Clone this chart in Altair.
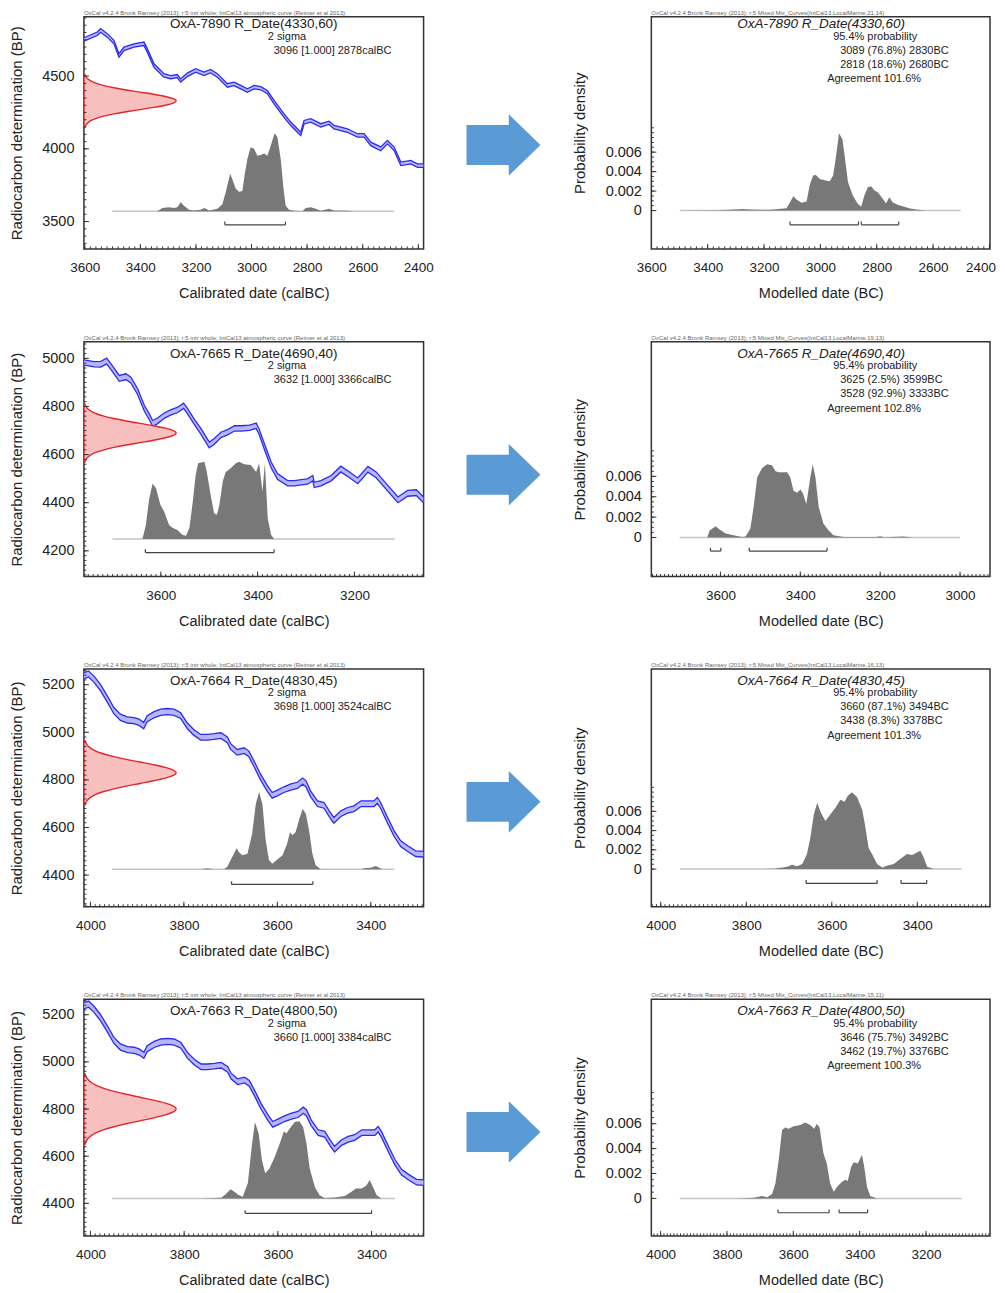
import math
import altair as alt
import pandas as pd

# ------------------------------------------------------------------ data
SAMPLES = ["OxA-7890 R_Date(4330,60)", "OxA-7665 R_Date(4690,40)",
           "OxA-7664 R_Date(4830,45)", "OxA-7663 R_Date(4800,50)"]
CAL_TEXT = ["3096 [1.000] 2878calBC", "3632 [1.000] 3366calBC",
            "3698 [1.000] 3524calBC", "3660 [1.000] 3384calBC"]
MOD_TEXT = [["3089 (76.8%) 2830BC", "2818 (18.6%) 2680BC"],
            ["3625 (2.5%) 3599BC", "3528 (92.9%) 3333BC"],
            ["3660 (87.1%) 3494BC", "3438 (8.3%) 3378BC"],
            ["3646 (75.7%) 3492BC", "3462 (19.7%) 3376BC"]]
AGREE_TEXT = ["Agreement 101.6%", "Agreement 102.8%", "Agreement 101.3%", "Agreement 100.3%"]
MARINE = ["21,14", "19,13", "16,13", "15,11"]
HEAD_LEFT = "OxCal v4.2.4 Bronk Ramsey (2013); r:5 intr whole; IntCal13 atmospheric curve (Reimer et al 2013)"
HEAD_RIGHT = "OxCal v4.2.4 Bronk Ramsey (2013); r:5 Mixed Mix_Curves(IntCal13,LocalMarine,{})"

# calibration curves (calBC, BP, 1 sigma)
R1_CURVE_YEAR = [3603, 3555, 3543, 3519, 3495, 3477, 3459, 3423, 3387, 3375, 3351, 3315, 3291, 3267, 3255, 3231,
                 3201, 3171, 3147, 3123, 3087, 3063, 3039, 3015, 2991, 2967, 2943, 2919, 2883, 2859, 2835, 2823,
                 2811, 2787, 2751, 2721, 2703, 2655, 2619, 2595, 2571, 2535, 2511, 2487, 2463, 2427, 2403, 2381]
R1_CURVE_BP = [4752, 4791, 4814, 4780, 4734, 4642, 4688, 4711, 4722, 4677, 4573, 4505, 4493, 4500, 4470, 4509,
               4539, 4516, 4534, 4505, 4436, 4447, 4424, 4401, 4424, 4417, 4390, 4321, 4229, 4172, 4126, 4103,
               4183, 4195, 4161, 4179, 4149, 4126, 4092, 4092, 4034, 4000, 4046, 4000, 3897, 3908, 3885, 3885]
R1_CURVE_SIG = [12, 12, 13, 12, 12, 12, 12, 11, 12, 12, 12, 12, 11, 11, 11, 12,
                12, 12, 12, 12, 12, 12, 12, 12, 12, 11, 11, 12, 12, 12, 12, 12,
                12, 12, 12, 11, 12, 12, 12, 12, 12, 13, 12, 12, 12, 12, 12, 12]

R2_CURVE_YEAR = [3759, 3738, 3724, 3712, 3703, 3686, 3672, 3662, 3648, 3634, 3624, 3617, 3607, 3593, 3579, 3566,
                 3553, 3545, 3531, 3517, 3500, 3490, 3476, 3462, 3448, 3434, 3417, 3403, 3397, 3386, 3372, 3359,
                 3338, 3324, 3310, 3297, 3286, 3283, 3269, 3248, 3228, 3210, 3193, 3172, 3155, 3131, 3110, 3090,
                 3072, 3057]
R2_CURVE_BP = [4983, 4976, 4976, 4989, 4965, 4917, 4924, 4910, 4862, 4792, 4758, 4730, 4740, 4762, 4776, 4785,
               4803, 4781, 4737, 4696, 4640, 4654, 4682, 4693, 4709, 4709, 4712, 4720, 4696, 4633, 4557, 4509,
               4481, 4481, 4485, 4488, 4502, 4474, 4481, 4502, 4540, 4516, 4491, 4539, 4516, 4460, 4412, 4439,
               4442, 4412]
R2_CURVE_SIG = [11, 11, 12, 12, 12, 12, 12, 12, 12, 12, 12, 12, 12, 11, 11, 11, 11, 11, 11, 12,
                12, 12, 11, 11, 11, 11, 11, 11, 11, 12, 12, 12, 11, 11, 11, 11, 11, 11, 11, 11,
                12, 12, 12, 12, 12, 12, 12, 12, 12, 12]

# rows 3 and 4 show the same stretch of IntCal13
R34_CURVE_YEAR = [4014, 4004, 3993, 3979, 3964, 3950, 3936, 3921, 3907, 3896, 3886, 3879, 3864, 3850, 3836, 3821,
                  3807, 3793, 3779, 3764, 3750, 3736, 3721, 3707, 3700, 3686, 3671, 3661, 3650, 3636, 3621, 3611,
                  3600, 3586, 3571, 3557, 3546, 3539, 3529, 3514, 3500, 3489, 3479, 3464, 3450, 3436, 3421, 3407,
                  3393, 3386, 3379, 3364, 3350, 3336, 3321, 3304, 3287]
R34_CURVE_BP = [5238, 5245, 5224, 5189, 5140, 5091, 5063, 5052, 5049, 5042, 5028, 5056, 5074, 5084, 5087, 5084,
                5070, 5028, 5000, 4979, 4979, 4982, 4986, 4968, 4940, 4916, 4923, 4909, 4868, 4812, 4763, 4735,
                4745, 4759, 4770, 4777, 4795, 4784, 4742, 4700, 4693, 4658, 4630, 4658, 4672, 4679, 4700, 4700,
                4700, 4714, 4693, 4630, 4574, 4532, 4511, 4490, 4488]
R34_CURVE_SIG = [13, 13, 13, 13, 13, 13, 13, 13, 13, 13, 13, 13, 13, 13, 13, 13, 12, 12, 12, 12,
                 12, 12, 12, 12, 12, 12, 12, 12, 12, 12, 12, 12, 12, 12, 13, 13, 13, 13, 12, 12,
                 12, 12, 12, 12, 12, 12, 12, 12, 12, 12, 12, 12, 12, 12, 12, 12, 12]

# radiocarbon measurements (red curves on the BP axis)
NORM_DENS = [0.011, 0.023, 0.044, 0.080, 0.135, 0.216, 0.325, 0.458, 0.607, 0.755, 0.882, 0.969, 1.0,
             0.969, 0.882, 0.755, 0.607, 0.458, 0.325, 0.216, 0.135, 0.080, 0.044, 0.023, 0.011]
R1_NORM_BP = [4150, 4165, 4180, 4195, 4210, 4225, 4240, 4255, 4270, 4285, 4300, 4315, 4330,
              4345, 4360, 4375, 4390, 4405, 4420, 4435, 4450, 4465, 4480, 4495, 4510]
R2_NORM_BP = [4570, 4580, 4590, 4600, 4610, 4620, 4630, 4640, 4650, 4660, 4670, 4680, 4690,
              4700, 4710, 4720, 4730, 4740, 4750, 4760, 4770, 4780, 4790, 4800, 4810]
R3_NORM_BP = [4695, 4706.25, 4717.5, 4728.75, 4740, 4751.25, 4762.5, 4773.75, 4785, 4796.25, 4807.5, 4818.75, 4830,
              4841.25, 4852.5, 4863.75, 4875, 4886.25, 4897.5, 4908.75, 4920, 4931.25, 4942.5, 4953.75, 4965]
R4_NORM_BP = [4650, 4662.5, 4675, 4687.5, 4700, 4712.5, 4725, 4737.5, 4750, 4762.5, 4775, 4787.5, 4800,
              4812.5, 4825, 4837.5, 4850, 4862.5, 4875, 4887.5, 4900, 4912.5, 4925, 4937.5, 4950]

# calibrated distributions (relative height)
R1_CAL_YEAR = [3501, 3339, 3321, 3297, 3279, 3267, 3255, 3243, 3225, 3207, 3183, 3169, 3153, 3123, 3105, 3093,
               3077, 3069, 3057, 3045, 3033, 3025, 3015, 3003, 2991, 2979, 2967, 2955, 2943, 2931, 2917, 2907,
               2895, 2885, 2877, 2865, 2847, 2817, 2805, 2787, 2769, 2751, 2721, 2703, 2655, 2631, 2487]
R1_CAL_PROB = [0, 0, 0.04, 0.05, 0.04, 0.05, 0.115, 0.07, 0.02, 0.01, 0.02, 0.04, 0.01, 0.03, 0.09, 0.24,
               0.48, 0.41, 0.29, 0.25, 0.26, 0.46, 0.67, 0.82, 0.80, 0.71, 0.72, 0.74, 0.71, 0.84, 1.0, 0.95,
               0.67, 0.29, 0.07, 0.02, 0.005, 0, 0.04, 0.05, 0.03, 0.005, 0.03, 0.01, 0.005, 0, 0]
R2_CAL_YEAR = [3700, 3638, 3631, 3624, 3617, 3610, 3601, 3593, 3583, 3576, 3566, 3555, 3548, 3541, 3534, 3528,
               3523, 3510, 3505, 3497, 3490, 3484, 3479, 3472, 3466, 3455, 3445, 3438, 3428, 3414, 3403, 3397,
               3390, 3385, 3379, 3372, 3366, 3117]
R2_CAL_PROB = [0, 0, 0.18, 0.52, 0.71, 0.65, 0.44, 0.35, 0.18, 0.145, 0.115, 0.05, 0.04, 0.14, 0.48, 0.82,
               0.97, 0.99, 0.86, 0.56, 0.33, 0.31, 0.44, 0.74, 0.86, 0.91, 0.97, 0.99, 0.96, 0.95, 0.86, 0.97,
               0.61, 0.97, 0.26, 0.05, 0, 0]
R3_CAL_YEAR = [3954, 3764, 3750, 3736, 3714, 3707, 3700, 3693, 3687, 3682, 3675, 3664, 3654, 3646, 3639, 3632,
               3625, 3618, 3611, 3600, 3589, 3579, 3573, 3568, 3561, 3554, 3546, 3539, 3532, 3525, 3518, 3507,
               3421, 3414, 3400, 3389, 3382, 3375, 3350]
R3_CAL_PROB = [0, 0, 0.013, 0, 0, 0.03, 0.12, 0.2, 0.27, 0.22, 0.18, 0.2, 0.46, 0.85, 1.0, 0.85,
               0.375, 0.12, 0.07, 0.125, 0.18, 0.33, 0.48, 0.44, 0.48, 0.63, 0.78, 0.72, 0.5, 0.2, 0.05, 0,
               0, 0.013, 0.02, 0.04, 0.02, 0, 0]
R4_CAL_YEAR = [3954, 3764, 3721, 3711, 3701, 3693, 3684, 3675, 3664, 3656, 3649, 3641, 3634, 3627, 3618, 3607,
               3596, 3587, 3582, 3575, 3564, 3554, 3546, 3539, 3532, 3521, 3511, 3500, 3479, 3457, 3443, 3433,
               3421, 3411, 3404, 3397, 3389, 3379, 3350]
R4_CAL_PROB = [0, 0, 0.01, 0.057, 0.12, 0.087, 0.043, 0.02, 0.2, 0.67, 1.0, 0.85, 0.5, 0.33, 0.39, 0.54,
               0.72, 0.88, 0.85, 0.91, 1.0, 1.01, 0.93, 0.72, 0.39, 0.15, 0.04, 0.004, 0.013, 0.03, 0.087, 0.13,
               0.13, 0.17, 0.24, 0.15, 0.04, 0, 0]

# modelled distributions (probability density)
R1_MOD_YEAR = [3499, 3367, 3308, 3273, 3249, 3191, 3167, 3120, 3108, 3096, 3085, 3067, 3049, 3038, 3026, 3016,
               3002, 2985, 2967, 2955, 2944, 2934, 2922, 2914, 2902, 2885, 2867, 2855, 2844, 2832, 2820, 2808,
               2796, 2779, 2767, 2755, 2744, 2726, 2708, 2685, 2661, 2626, 2502]
R1_MOD_PROB = [0, 0.00003, 0.0001, 0.00017, 0.0001, 0.00007, 0.0001, 0.00024, 0.00086, 0.00147, 0.00113, 0.0008,
               0.00092, 0.0026, 0.0036, 0.00366, 0.00325, 0.0031, 0.003, 0.0036, 0.00565, 0.00795, 0.00736,
               0.00565, 0.0029, 0.00154, 0.00068, 0.0004, 0.00154, 0.0024, 0.0025, 0.00205, 0.00188, 0.0012,
               0.00075, 0.00137, 0.00086, 0.0006, 0.00045, 0.00024, 0.0001, 0, 0]
R2_MOD_YEAR = [3702, 3633, 3627, 3612, 3602, 3587, 3567, 3546, 3537, 3525, 3517, 3508, 3496, 3483, 3471, 3462,
               3454, 3433, 3425, 3417, 3408, 3400, 3393, 3385, 3375, 3369, 3362, 3354, 3342, 3329, 3317, 3292,
               3210, 3200, 3190, 3142, 3117, 3000]
R2_MOD_PROB = [0, 0, 0.0007, 0.0011, 0.00078, 0.0004, 0.00023, 0.00005, 0.0001, 0.00088, 0.003, 0.0059,
               0.0068, 0.0072, 0.0071, 0.0065, 0.0064, 0.0064, 0.0059, 0.0046, 0.0044, 0.0047, 0.0043, 0.0033,
               0.0059, 0.0072, 0.0059, 0.003, 0.00136, 0.0007, 0.00023, 0.00006, 0.00005, 0.00013, 0.00003,
               0.0001, 0, 0]
R3_MOD_YEAR = [3955, 3774, 3735, 3704, 3693, 3681, 3669, 3658, 3650, 3642, 3634, 3626, 3615, 3603, 3591, 3580,
               3570, 3563, 3553, 3541, 3529, 3522, 3514, 3506, 3494, 3482, 3471, 3455, 3440, 3424, 3412, 3401,
               3393, 3385, 3377, 3362, 3296]
R3_MOD_PROB = [0, 0, 0.00003, 0.00024, 0.00045, 0.0003, 0.00052, 0.00156, 0.0033, 0.0057, 0.0069, 0.0059,
               0.005, 0.0057, 0.0064, 0.0072, 0.007, 0.0076, 0.008, 0.0075, 0.0062, 0.0045, 0.0022, 0.00156,
               0.00052, 0.00017, 0.00035, 0.00052, 0.00104, 0.00156, 0.00146, 0.00173, 0.0019, 0.0012, 0.00024,
               0, 0]
R4_MOD_YEAR = [3942, 3769, 3719, 3694, 3679, 3664, 3654, 3644, 3634, 3624, 3614, 3599, 3579, 3564, 3549, 3537,
               3529, 3521, 3509, 3499, 3489, 3478, 3468, 3453, 3443, 3436, 3426, 3418, 3406, 3393, 3386, 3378,
               3368, 3348, 3092]
R4_MOD_PROB = [0, 0, 0.00005, 0.00019, 0.0001, 0.00035, 0.0012, 0.0031, 0.0055, 0.0057, 0.0056, 0.0058,
               0.0059, 0.0061, 0.0059, 0.0056, 0.006, 0.0057, 0.0036, 0.0028, 0.0012, 0.00053, 0.00093, 0.00133,
               0.0015, 0.0014, 0.0025, 0.0029, 0.0028, 0.0035, 0.0025, 0.00093, 0.00019, 0, 0]

# ranges (brackets)
R1_CAL_RANGE = [(3096, 2878)]
R2_CAL_RANGE = [(3632, 3366)]
R3_CAL_RANGE = [(3698, 3524)]
R4_CAL_RANGE = [(3670, 3400)]
R1_MOD_RANGE = [(3108, 2865), (2855, 2722)]
R2_MOD_RANGE = [(3625, 3599), (3528, 3333)]
R3_MOD_RANGE = [(3660, 3494), (3438, 3378)]
R4_MOD_RANGE = [(3646, 3492), (3462, 3376)]

# axis tick labels
L_XVALS = [[3600, 3400, 3200, 3000, 2800, 2600, 2400], [3600, 3400, 3200],
           [4000, 3800, 3600, 3400], [4000, 3800, 3600, 3400]]
L_YVALS = [[3500, 4000, 4500], [4200, 4400, 4600, 4800, 5000],
           [4400, 4600, 4800, 5000, 5200], [4400, 4600, 4800, 5000, 5200]]
R_XVALS = [[3600, 3400, 3200, 3000, 2800, 2600, 2400], [3600, 3400, 3200, 3000],
           [4000, 3800, 3600, 3400], [4000, 3800, 3600, 3400, 3200]]
R_YVALS = [0, 0.002, 0.004, 0.006]

# ------------------------------------------------------------------ layout / style
FONT = "Liberation Sans"
TXT = "#222222"
FRAME = "#333333"
BLUE = "#2b2bf2"
BAND = "#aeaef8"
RED = "#e3262b"
PINK = "#f7b4b4"
GREY = "#787878"
LGREY = "#c4c4c4"
ARROW_BLUE = "#5b9bd5"

W_L, W_R, W_A = 340, 339, 188
HEIGHTS = [232.5, 235, 238, 237]
TEXT_DY = [-4.5, 0, 0, 0]
L_XDOM = [[3603, 2381], [3759, 3057], [4014, 3287], [4014, 3289]]
L_YDOM = [[3312, 4909], [4093, 5069], [4267, 5266], [4262, 5266]]
L_GDOM = [[-0.483, 2.493], [-0.483, 2.530], [-0.487, 2.596], [-0.491, 2.608]]
L_BLEVEL = [-0.175, -0.175, -0.198, -0.196]
R_XDOM = [[3600, 2398], [3773, 2925], [4022, 3230], [4028, 3007]]
R_YDOM = [[-0.00394, 0.01992], [-0.00383, 0.0192], [-0.00392, 0.02081], [-0.00301, 0.016]]
R_BLEVEL = [-0.00147, -0.00133, -0.00149, -0.00115]
R_BTICK = [0.00034, 0.00032, 0.00035, 0.00026]
R_EDGE_LABEL = [2400, None, None, None]
L_XMINOR = [20, 10, 10, 10]
L_YMINOR = [50, 20, 20, 20]
R_XMINOR = [20, 10, 10, 10]
NORM_XMAX = 3.68
ARROW = "M -1 -0.54 L 0.143 -0.54 L 0.143 -0.833 L 1 0 L 0.143 0.833 L 0.143 0.54 L -1 0.54 Z"

ROWS = [
    dict(curve=(R1_CURVE_YEAR, R1_CURVE_BP, R1_CURVE_SIG), norm=R1_NORM_BP,
         cal=(R1_CAL_YEAR, R1_CAL_PROB), mod=(R1_MOD_YEAR, R1_MOD_PROB),
         cr=R1_CAL_RANGE, mr=R1_MOD_RANGE),
    dict(curve=(R2_CURVE_YEAR, R2_CURVE_BP, R2_CURVE_SIG), norm=R2_NORM_BP,
         cal=(R2_CAL_YEAR, R2_CAL_PROB), mod=(R2_MOD_YEAR, R2_MOD_PROB),
         cr=R2_CAL_RANGE, mr=R2_MOD_RANGE),
    dict(curve=(R34_CURVE_YEAR, R34_CURVE_BP, R34_CURVE_SIG), norm=R3_NORM_BP,
         cal=(R3_CAL_YEAR, R3_CAL_PROB), mod=(R3_MOD_YEAR, R3_MOD_PROB),
         cr=R3_CAL_RANGE, mr=R3_MOD_RANGE),
    dict(curve=(R34_CURVE_YEAR, R34_CURVE_BP, R34_CURVE_SIG), norm=R4_NORM_BP,
         cal=(R4_CAL_YEAR, R4_CAL_PROB), mod=(R4_MOD_YEAR, R4_MOD_PROB),
         cr=R4_CAL_RANGE, mr=R4_MOD_RANGE),
]

ONE = pd.DataFrame({"k": [0]})


def sc(dom):
    return alt.Scale(domain=dom, nice=False, zero=False)


def steps(dom, step):
    lo, hi = min(dom), max(dom)
    k = math.ceil(lo / step)
    out = []
    while k * step <= hi + 1e-12:
        out.append(round(k * step, 6))
        k += 1
    return out


def text(s, x, y, size=11, align="left", style="normal", color=TXT):
    return alt.Chart(ONE).mark_text(text=s, fontSize=size, font=FONT, color=color, align=align,
                                    baseline="middle", fontStyle=style).encode(
        x=alt.value(x), y=alt.value(y))


def ticks(xs, ys, xmaj, xmin, ymaj, ymin, H):
    out = []
    for vals, ln in ((xmaj, 5), (xmin, 2.5)):
        out.append(alt.Chart(pd.DataFrame({"v": vals})).mark_rule(color=FRAME, strokeWidth=1, clip=True).encode(
            x=alt.X("v:Q", scale=xs, axis=None), y=alt.value(H), y2=alt.value(H - ln)))
    for vals, ln in ((ymaj, 5), (ymin, 2.5)):
        out.append(alt.Chart(pd.DataFrame({"v": vals})).mark_rule(color=FRAME, strokeWidth=1, clip=True).encode(
            y=alt.Y("v:Q", scale=ys, axis=None), x=alt.value(0), x2=alt.value(ln)))
    return out


def brackets(ranges, level, tick, xs, gs):
    df = pd.DataFrame({"a": [r[0] for r in ranges], "b": [r[1] for r in ranges],
                       "lvl": [level] * len(ranges), "top": [level + tick] * len(ranges)})
    base = alt.Chart(df).mark_rule(color="#444444", strokeWidth=1.2)
    return [
        base.encode(x=alt.X("a:Q", scale=xs, axis=None), x2="b:Q", y=alt.Y("lvl:Q", scale=gs, axis=None)),
        base.encode(x=alt.X("a:Q", scale=xs, axis=None), y=alt.Y("lvl:Q", scale=gs, axis=None), y2="top:Q"),
        base.encode(x=alt.X("b:Q", scale=xs, axis=None), y=alt.Y("lvl:Q", scale=gs, axis=None), y2="top:Q"),
    ]


def x_axis(vals, title, edge=None):
    extra = {}
    if edge is not None:
        test = "datum.value == %d" % edge
        extra = dict(labelAlign={"condition": {"test": test, "value": "right"}, "value": "center"},
                     labelOffset={"condition": {"test": test, "value": 6}, "value": 0})
    return alt.Axis(values=vals, format="d", title=title, orient="bottom", ticks=False, domain=False,
                    grid=False, labelFlush=False, labelFont=FONT, labelFontSize=13.5, labelColor=TXT,
                    labelPadding=12, titleFont=FONT, titleFontSize=14.5, titleFontWeight="normal",
                    titleColor=TXT, titlePadding=12, **extra)


def y_axis(vals, title, fmt, pad):
    return alt.Axis(values=vals, format=fmt, title=title, orient="left", ticks=False, domain=False,
                    grid=False, labelFont=FONT, labelFontSize=14.5, labelColor=TXT, labelPadding=10,
                    titleFont=FONT, titleFontSize=15, titleFontWeight="normal", titleColor=TXT,
                    titlePadding=pad)


def left_panel(i):
    r = ROWS[i]
    H = HEIGHTS[i]
    dy = TEXT_DY[i]
    xs, ys, gs, ns = sc(L_XDOM[i]), sc(L_YDOM[i]), sc(L_GDOM[i]), sc([0, NORM_XMAX])
    cy, cb, cs = r["curve"]
    curve = alt.Chart(pd.DataFrame({"yr": cy, "bp": cb, "sig": cs})).transform_calculate(
        lo="datum.bp - datum.sig", hi="datum.bp + datum.sig")
    band = curve.mark_area(color=BAND, opacity=0.9, clip=True).encode(
        x=alt.X("yr:Q", scale=xs, axis=x_axis(L_XVALS[i], "Calibrated date (calBC)")),
        y=alt.Y("lo:Q", scale=ys, axis=y_axis(L_YVALS[i], "Radiocarbon determination (BP)", "d", 17)),
        y2="hi:Q")
    up = curve.mark_line(color=BLUE, strokeWidth=1.3, clip=True).encode(
        x=alt.X("yr:Q", scale=xs, axis=None), y=alt.Y("hi:Q", scale=ys, axis=None))
    dn = curve.mark_line(color=BLUE, strokeWidth=1.3, clip=True).encode(
        x=alt.X("yr:Q", scale=xs, axis=None), y=alt.Y("lo:Q", scale=ys, axis=None))
    norm = alt.Chart(pd.DataFrame({"bp": r["norm"], "d": NORM_DENS})).mark_area(
        orient="horizontal", interpolate="monotone", fill=PINK, fillOpacity=0.85, stroke=RED,
        strokeWidth=1.4, clip=True).encode(
        x=alt.X("d:Q", scale=ns, axis=None), y=alt.Y("bp:Q", scale=ys, axis=None))
    gy, gp = r["cal"]
    base = alt.Chart(pd.DataFrame({"a": [gy[0]], "b": [gy[-1]], "z": [0]})).mark_rule(
        color=LGREY, strokeWidth=1.5).encode(
        x=alt.X("a:Q", scale=xs, axis=None), x2="b:Q", y=alt.Y("z:Q", scale=gs, axis=None))
    grey = alt.Chart(pd.DataFrame({"yr": gy, "p": gp})).mark_area(color=GREY, opacity=1, clip=True).encode(
        x=alt.X("yr:Q", scale=xs, axis=None), y=alt.Y("p:Q", scale=gs, axis=None), y2=alt.datum(0))
    layers = [band, up, dn, norm, base, grey]
    layers += brackets(r["cr"], L_BLEVEL[i], 0.042, xs, gs)
    layers += ticks(xs, ys, L_XVALS[i], steps(L_XDOM[i], L_XMINOR[i]),
                    L_YVALS[i], steps(L_YDOM[i], L_YMINOR[i]), H)
    layers += [
        text(HEAD_LEFT, 0, -4, size=6, color="#666666"),
        text(SAMPLES[i], 170, 12 + dy, size=13.5, align="center"),
        text("2 sigma", 184, 24.5 + dy),
        text(CAL_TEXT[i], 190, 38.5 + dy),
    ]
    return alt.layer(*layers).resolve_scale(x="independent", y="independent").properties(width=W_L, height=H)


def right_panel(i):
    r = ROWS[i]
    H = HEIGHTS[i]
    dy = TEXT_DY[i]
    xs, ys = sc(R_XDOM[i]), sc(R_YDOM[i])
    my, mp = r["mod"]
    grey = alt.Chart(pd.DataFrame({"yr": my, "p": mp})).mark_area(
        color=GREY, opacity=1, clip=True).encode(
        x=alt.X("yr:Q", scale=xs, axis=x_axis(R_XVALS[i], "Modelled date (BC)", R_EDGE_LABEL[i])),
        y=alt.Y("p:Q", scale=ys, axis=y_axis(R_YVALS, "Probability density", "~g", 18)),
        y2=alt.datum(0))
    base = alt.Chart(pd.DataFrame({"a": [my[0]], "b": [my[-1]], "z": [0]})).mark_rule(
        color=LGREY, strokeWidth=1.5).encode(
        x=alt.X("a:Q", scale=xs, axis=None), x2="b:Q", y=alt.Y("z:Q", scale=ys, axis=None))
    layers = [base, grey]
    layers += brackets(r["mr"], R_BLEVEL[i], R_BTICK[i], xs, ys)
    layers += ticks(xs, ys, R_XVALS[i], steps(R_XDOM[i], R_XMINOR[i]),
                    R_YVALS, steps([0, 0.0085], 0.0005), H)
    layers += [
        text(HEAD_RIGHT.format(MARINE[i]), 0, -4, size=6, color="#666666"),
        text(SAMPLES[i], 170, 12 + dy, size=13.5, align="center", style="italic"),
        text("95.4% probability", 182, 24.5 + dy),
        text(MOD_TEXT[i][0], 189, 38.5 + dy),
        text(MOD_TEXT[i][1], 189, 52.5 + dy),
        text(AGREE_TEXT[i], 176, 67 + dy),
    ]
    return alt.layer(*layers).resolve_scale(x="independent", y="independent").properties(width=W_R, height=H)


def arrow_cell(i):
    return alt.Chart(ONE).mark_point(shape=ARROW, filled=True, size=5476, color=ARROW_BLUE, opacity=1).encode(
        x=alt.value(60), y=alt.value(133 + TEXT_DY[i])).properties(
        width=W_A, height=HEIGHTS[i], view=alt.ViewBackground(stroke="transparent"))


cells = []
for i in range(4):
    cells += [left_panel(i), arrow_cell(i), right_panel(i)]

chart = alt.concat(*cells, columns=3, spacing={"row": 92.5, "column": 20}, bounds="flush", align="each").properties(
    padding={"left": 0, "top": 0, "right": 0, "bottom": 0}
).configure_view(stroke=FRAME, strokeWidth=1.5)

chart.save("out.html", embed_options={"renderer": "svg", "actions": False})
